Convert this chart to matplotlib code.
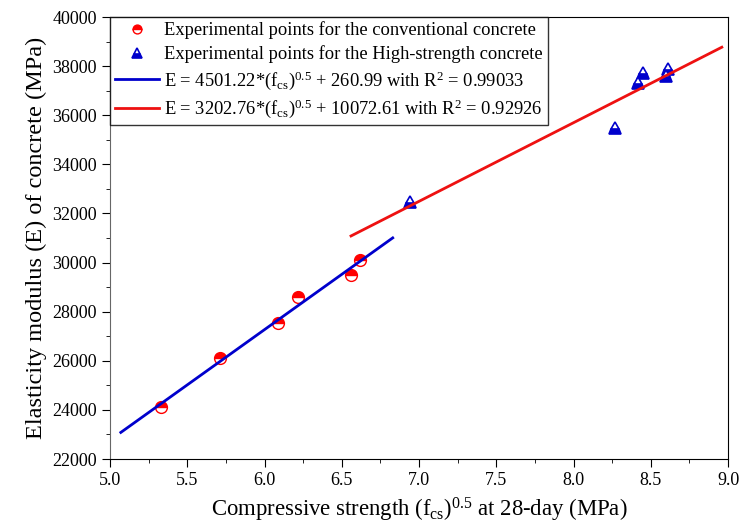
import numpy as np
import matplotlib.pyplot as plt
from matplotlib.ticker import MultipleLocator

plt.rcParams['font.family'] = ['Liberation Serif', 'DejaVu Serif']
plt.rcParams['mathtext.fontset'] = 'custom'
plt.rcParams['mathtext.rm'] = 'Liberation Serif'
plt.rcParams['mathtext.it'] = 'Liberation Serif:italic'

conv_x = [5.33, 5.71, 6.09, 6.22, 6.56, 6.62]
conv_y = [24100, 26100, 27550, 28600, 29500, 30100]
hs_x = [6.94, 8.27, 8.42, 8.45, 8.60, 8.61]
hs_y = [32450, 35500, 37300, 37700, 37600, 37900]

# 회귀식
a1, b1 = 4501.22, 260.99
a2, b2 = 3202.76, 10072.61
fit1_range = [5.07, 6.83]
fit2_range = [6.56, 8.96]

fig = plt.figure(figsize=(7.4, 5.24), dpi=100)
ax = fig.add_axes([110/740, 1-459/524, 618/740, 442/524])

ax.plot(conv_x, conv_y, 'o', ls='none', color='red', fillstyle='top',
        markerfacecoloralt='white', markeredgecolor='red', markersize=8.5,
        markeredgewidth=1.0, label='Experimental points for the conventional concrete')
ax.plot(hs_x, hs_y, '^', ls='none', color='#0000cc', fillstyle='bottom',
        markerfacecoloralt='white', markeredgecolor='#0000cc', markersize=9,
        markeredgewidth=1.2, label='Experimental points for the High-strength concrete')

x1 = np.array(fit1_range)
ax.plot(x1, a1*x1 + b1, color='#0000cc', lw=2,
        label=r'E = 4501.22*(f$_{\rm cs}$)$^{0.5}$ + 260.99 with R$^{2}$ = 0.99033')
x2 = np.array(fit2_range)
ax.plot(x2, a2*x2 + b2, color='#ee1111', lw=2,
        label=r'E = 3202.76*(f$_{\rm cs}$)$^{0.5}$ + 10072.61 with R$^{2}$ = 0.92926')

ax.set_xlim(5.0, 9.0)
ax.set_ylim(22000, 40000)
ax.xaxis.set_major_locator(MultipleLocator(0.5))
ax.xaxis.set_minor_locator(MultipleLocator(0.25))
ax.yaxis.set_major_locator(MultipleLocator(2000))
ax.yaxis.set_minor_locator(MultipleLocator(1000))
ax.xaxis.set_major_formatter(plt.FormatStrFormatter('%.1f'))
ax.tick_params(which='both', direction='out', top=False, right=False, labelsize=13)
ax.tick_params(which='major', length=6)
ax.tick_params(which='minor', length=3)
ax.spines['left'].set_color('#666666')

ax.set_xlabel(r'Compressive strength (f$_{\rm cs}$)$^{0.5}$ at 28-day (MPa)', fontsize=16.4,
              labelpad=5)
ax.set_ylabel('Elasticity modulus (E) of concrete (MPa)', fontsize=17.5, labelpad=4)

leg = ax.legend(loc='upper left', fontsize=13.3, frameon=True, fancybox=False,
                borderaxespad=0, handlelength=2.4, handletextpad=0.3,
                labelspacing=0.32, borderpad=0.25, markerscale=0.75)
leg.get_frame().set_edgecolor('black')
leg.get_frame().set_linewidth(1.0)

fig.savefig('out.png', dpi=100)
